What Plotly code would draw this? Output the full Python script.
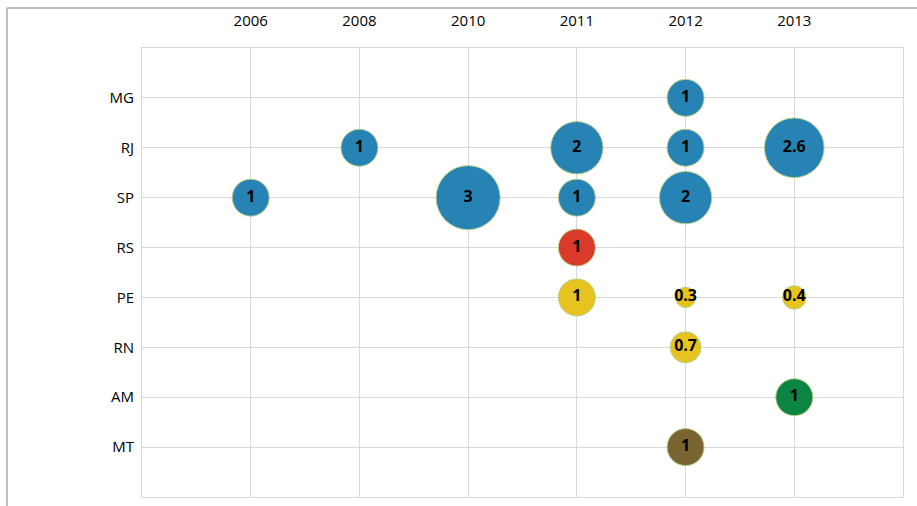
import plotly.graph_objects as go

# categories
years = ["2006", "2008", "2010", "2011", "2012", "2013"]
states = ["MG", "RJ", "SP", "RS", "PE", "RN", "AM", "MT"]

# bubbles, one group per colour
blue_x = ["2012", "2008", "2011", "2012", "2013", "2006", "2010", "2011", "2012"]
blue_y = ["MG", "RJ", "RJ", "RJ", "RJ", "SP", "SP", "SP", "SP"]
blue_v = [1, 1, 2, 1, 2.6, 1, 3, 1, 2]

red_x = ["2011"]
red_y = ["RS"]
red_v = [1]

yellow_x = ["2011", "2012", "2013", "2012"]
yellow_y = ["PE", "PE", "PE", "RN"]
yellow_v = [1, 0.3, 0.4, 0.7]

green_x = ["2013"]
green_y = ["AM"]
green_v = [1]

brown_x = ["2012"]
brown_y = ["MT"]
brown_v = [1]

groups = [
    (blue_x, blue_y, blue_v, "#2683b3"),
    (red_x, red_y, red_v, "#da3a2a"),
    (yellow_x, yellow_y, yellow_v, "#e6c31e"),
    (green_x, green_y, green_v, "#0c8442"),
    (brown_x, brown_y, brown_v, "#7a6432"),
]

ref = 2.0 * 1 / (37 ** 2)  # value 1 -> ~37px bubble

fig = go.Figure()
for gx, gy, gv, col in groups:
    fig.add_trace(go.Scatter(
        x=gx, y=gy, mode="markers+text",
        text=[("%g" % v) for v in gv],
        textposition="middle center",
        textfont=dict(family="Open Sans", size=16, color="black", weight="bold"),
        marker=dict(size=gv, sizemode="area", sizeref=ref, color=col,
                    line=dict(width=1, color="#b8d08a"), opacity=1),
        cliponaxis=False,
        hoverinfo="skip",
    ))

fig.update_xaxes(
    type="category", categoryorder="array", categoryarray=years,
    range=[-1, 6], side="top", automargin=False,
    showgrid=True, gridcolor="#d9d9d9", gridwidth=1,
    showline=True, mirror=True, linecolor="#d9d9d9", linewidth=1,
    ticks="outside", ticklen=15, tickcolor="rgba(0,0,0,0)",
    tickfont=dict(family="Open Sans", size=15, color="#000000"),
    zeroline=False, fixedrange=True,
)
fig.update_yaxes(
    type="category", categoryorder="array", categoryarray=states,
    range=[8, -1], automargin=False,
    showgrid=True, gridcolor="#d9d9d9", gridwidth=1,
    showline=True, mirror=True, linecolor="#d9d9d9", linewidth=1,
    ticks="outside", ticklen=4, tickcolor="rgba(0,0,0,0)",
    tickfont=dict(family="Open Sans", size=15, color="#000000"),
    zeroline=False, fixedrange=True,
)

# outer chart frame (top and left edges visible)
fig.add_shape(type="line", xref="paper", yref="paper",
              x0=(7 - 142) / 761, x1=1.02, y0=1 + (48 - 8) / 449, y1=1 + (48 - 8) / 449,
              line=dict(color="#bfbfc3", width=2))
fig.add_shape(type="line", xref="paper", yref="paper",
              x0=(7 - 142) / 761, x1=(7 - 142) / 761, y0=1 + (48 - 8) / 449, y1=-0.03,
              line=dict(color="#bfbfc3", width=2))

fig.update_layout(
    width=917, height=506,
    margin=dict(l=142, r=14, t=48, b=9),
    paper_bgcolor="white", plot_bgcolor="white",
    showlegend=False,
)

# page body has a default 8px margin; drop it so the figure sits at 0,0
fig.write_html("out.html", config={"displayModeBar": False},
               post_script="document.body.style.margin='0';")
